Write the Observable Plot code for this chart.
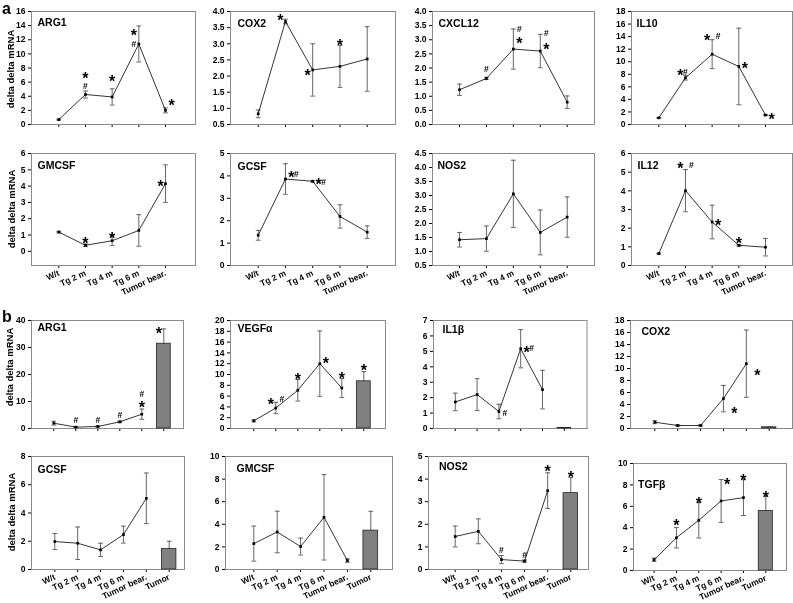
<!DOCTYPE html>
<html><head><meta charset="utf-8">
<script src="https://cdn.jsdelivr.net/npm/d3@7"></script>
<script src="https://cdn.jsdelivr.net/npm/@observablehq/plot@0.6"></script>
<style>
body{margin:0;background:#fff;}
#fig{position:relative;width:793px;height:603px;overflow:hidden;font-family:"Liberation Sans",Arial,sans-serif;color:#000;}
.pan{position:absolute;will-change:transform;}
.ylab{position:absolute;transform:translate(-50%,-50%) rotate(-90deg);white-space:nowrap;font-weight:bold;font-size:9.5px;}
.letter{position:absolute;font-weight:bold;font-size:16px;line-height:1;}
svg text{-webkit-font-smoothing:antialiased;}
</style></head><body><div id="fig"></div>
<script>
// ---------- categories ----------
const catsA = ["W/t", "Tg 2 m", "Tg 4 m", "Tg 6 m", "Tumor bear."];
const catsB = ["W/t", "Tg 2 m", "Tg 4 m", "Tg 6 m", "Tumor bear.", "Tumor"];

// ---------- panel a: values / errors ----------
const aARG1 = [0.7, 4.25, 3.9, 11.4, 2.0];
const aARG1Err = [0.08, 0.5, 1.15, 2.55, 0.35];
const aCOX2 = [0.83, 3.69, 2.19, 2.30, 2.53];
const aCOX2Err = [0.12, 0.07, 0.81, 0.65, 1.0];
const aCXCL12 = [1.23, 1.63, 2.67, 2.60, 0.79];
const aCXCL12Err = [0.2, 0.04, 0.71, 0.59, 0.22];
const aIL10 = [1.06, 7.43, 11.2, 9.24, 1.5];
const aIL10Err = [0.05, 0.35, 2.3, 6.1, 0.08];
const aGMCSF = [1.18, 0.37, 0.65, 1.28, 4.15];
const aGMCSFErr = [0.05, 0.08, 0.3, 0.97, 1.15];
const aGCSF = [1.35, 3.86, 3.76, 2.19, 1.49];
const aGCSFErr = [0.22, 0.68, 0.04, 0.52, 0.28];
const aNOS2 = [1.42, 1.46, 3.06, 1.68, 2.23];
const aNOS2Err = [0.26, 0.45, 1.2, 0.8, 0.72];
const aIL12 = [0.64, 4.01, 2.33, 1.08, 0.98];
const aIL12Err = [0.03, 1.13, 0.9, 0.05, 0.47];

// ---------- panel b: values / errors (last = Tumor bar) ----------
const bARG1 = [1.97, 0.5, 0.74, 2.46, 5.3, 31.4];
const bARG1Err = [0.7, 0.2, 0.2, 0.3, 1.9, 5.5];
const bVEGF = [1.42, 3.8, 7.08, 12.0, 7.5, 8.74];
const bVEGFErr = [0.2, 1.05, 2.0, 6.05, 1.75, 1.8];
const bIL1b = [1.72, 2.2, 1.1, 5.17, 2.52, 0.03];
const bIL1bErr = [0.57, 1.03, 0.47, 1.24, 1.25, 0.0];
const bCOX2 = [1.05, 0.5, 0.5, 4.98, 10.8, 0.2];
const bCOX2Err = [0.25, 0.1, 0.1, 2.2, 5.6, 0.05];
const bGCSF = [1.98, 1.86, 1.39, 2.47, 5.04, 1.46];
const bGCSFErr = [0.57, 1.15, 0.47, 0.6, 1.79, 0.54];
const bGMCSF = [2.29, 3.32, 2.03, 4.62, 0.79, 3.44];
const bGMCSFErr = [1.55, 1.84, 0.75, 3.78, 0.15, 1.71];
const bNOS2 = [1.46, 1.69, 0.44, 0.37, 3.49, 3.38];
const bNOS2Err = [0.46, 0.55, 0.18, 0.05, 0.79, 0.68];
const bTGFb = [1.0, 3.06, 4.69, 6.5, 6.81, 5.56];
const bTGFbErr = [0.15, 0.95, 1.65, 2.0, 1.67, 1.38];

// ---------- significance marks: [category, value, symbol, side] ----------
const aARG1Notes = [["Tg 2 m", 7.0, "*", "c"], ["Tg 2 m", 5.4, "#", "c"], ["Tg 4 m", 6.6, "*", "c"], ["Tg 6 m", 13.1, "*", "l"], ["Tg 6 m", 11.4, "#", "l"], ["Tumor bear.", 3.2, "*", "r"]];
const aCOX2Notes = [["Tg 2 m", 3.82, "*", "l"], ["Tg 4 m", 2.12, "*", "l"], ["Tg 6 m", 3.05, "*", "c"]];
const aCXCL12Notes = [["Tg 2 m", 1.95, "#", "c"], ["Tg 4 m", 3.38, "#", "r"], ["Tg 4 m", 2.98, "*", "r"], ["Tg 6 m", 3.22, "#", "r"], ["Tg 6 m", 2.8, "*", "r"]];
const aIL10Notes = [["Tg 2 m", 8.4, "*", "l"], ["Tg 2 m", 8.4, "#", "c"], ["Tg 4 m", 14.0, "*", "l"], ["Tg 4 m", 14.0, "#", "r"], ["Tg 6 m", 9.5, "*", "r"], ["Tumor bear.", 1.3, "*", "r"]];
const aGMCSFNotes = [["Tg 2 m", 0.71, "*", "c"], ["Tg 4 m", 0.98, "*", "c"], ["Tumor bear.", 4.17, "*", "l"]];
const aGCSFNotes = [["Tg 2 m", 4.07, "*", "r"], ["Tg 2 m", 4.07, "#", "r2"], ["Tg 4 m", 3.76, "*", "r"], ["Tg 4 m", 3.72, "#", "r2"]];
const aNOS2Notes = [];
const aIL12Notes = [["Tg 2 m", 5.38, "*", "l"], ["Tg 2 m", 5.38, "#", "r"], ["Tg 4 m", 2.35, "*", "r"], ["Tg 6 m", 1.35, "*", "c"]];
const bARG1Notes = [["Tg 2 m", 3.0, "#", "c"], ["Tg 4 m", 3.1, "#", "c"], ["Tg 6 m", 4.9, "#", "c"], ["Tumor bear.", 12.5, "#", "c"], ["Tumor bear.", 9.0, "*", "c"], ["Tumor", 36.6, "*", "l"]];
const bVEGFNotes = [["Tg 2 m", 5.1, "*", "l"], ["Tg 2 m", 5.4, "#", "r"], ["Tg 4 m", 9.8, "*", "c"], ["Tg 6 m", 12.7, "*", "r"], ["Tumor bear.", 10.0, "*", "c"], ["Tumor", 11.5, "*", "c"]];
const bIL1bNotes = [["Tg 4 m", 1.0, "#", "r"], ["Tg 6 m", 5.17, "*", "r"], ["Tg 6 m", 5.17, "#", "r2"]];
const bCOX2Notes = [["Tg 6 m", 3.1, "*", "r2"], ["Tumor bear.", 9.5, "*", "r2"]];
const bGCSFNotes = [];
const bGMCSFNotes = [];
const bNOS2Notes = [["Tg 4 m", 0.84, "#", "c"], ["Tg 6 m", 0.62, "#", "c"], ["Tumor bear.", 4.51, "*", "c"], ["Tumor", 4.22, "*", "c"]];
const bTGFbNotes = [["Tg 2 m", 4.5, "*", "c"], ["Tg 4 m", 6.6, "*", "c"], ["Tg 6 m", 8.4, "*", "r"], ["Tumor bear.", 8.75, "*", "c"], ["Tumor", 7.2, "*", "c"]];

// ---------- y tick labels ----------
const ticks0to16 = [0, 2, 4, 6, 8, 10, 12, 14, 16];
const ticks05to4 = [0.5, 1.0, 1.5, 2.0, 2.5, 3.0, 3.5, 4.0];
const ticks0to4 = [0.0, 0.5, 1.0, 1.5, 2.0, 2.5, 3.0, 3.5, 4.0];
const ticks0to18 = [0, 2, 4, 6, 8, 10, 12, 14, 16, 18];
const ticks0to6 = [0, 1, 2, 3, 4, 5, 6];
const ticks0to5 = [0, 1, 2, 3, 4, 5];
const ticks05to45 = [0.5, 1.0, 1.5, 2.0, 2.5, 3.0, 3.5, 4.0, 4.5];
const ticks0to40 = [0, 10, 20, 30, 40];
const ticks0to20 = [0, 2, 4, 6, 8, 10, 12, 14, 16, 18, 20];
const ticks0to7 = [0, 1, 2, 3, 4, 5, 6, 7];
const ticks0to8 = [0, 2, 4, 6, 8];
const ticks0to10 = [0, 2, 4, 6, 8, 10];

// ---------- drawing ----------
const FONT = '"Liberation Sans", Arial, Helvetica, sans-serif';
const capSymbol = {draw(ctx, size) { const r = Math.sqrt(size / Math.PI); ctx.moveTo(-r, 0); ctx.lineTo(r, 0); }};
const sideDx = {c: 0, l: -5, r: 6, r2: 11};
const fig = document.getElementById("fig");

function panel(cfg) {
  const {cats, vals, errs, notes, title, yDomain, yTicks, fmt, frame, gaps, tOff, labels, bar} = cfg;
  const [l, t, r, b] = frame;
  const mL = 32, mR = 8, mT = 8, mB = 44;
  const w = r - l + mL + mR, h = b - t + mT + mB;
  const n = cats.length;
  const [gL, gR] = gaps;
  const step = (r - l - gL - gR) / (n - 1);
  const pi = 0.37;
  const rows = cats.map((c, i) => ({cat: c, v: vals[i], e: errs[i]}));
  const linePts = bar ? rows.slice(0, n - 1) : rows;
  const barPts = bar ? rows.slice(n - 1) : [];
  const errStroke = "#555";
  const marks = [
    Plot.frame({stroke: "#8a8a8a", strokeWidth: 1}),
    Plot.ruleX(rows, {x: "cat", y1: d => d.v - d.e, y2: d => d.v + d.e, stroke: errStroke, strokeWidth: 0.9}),
    Plot.dot(rows, {x: "cat", y: d => d.v + d.e, symbol: capSymbol, r: 2.4, fill: "none", stroke: errStroke, strokeWidth: 0.9}),
    Plot.dot(rows, {x: "cat", y: d => d.v - d.e, symbol: capSymbol, r: 2.4, fill: "none", stroke: errStroke, strokeWidth: 0.9}),
    Plot.barY(barPts, {x: "cat", y: "v", fill: "#808080", stroke: "#222", strokeWidth: 0.8}),
    Plot.line(linePts, {x: "cat", y: "v", stroke: "#000", strokeWidth: 0.8}),
    Plot.dot(linePts, {x: "cat", y: "v", symbol: "square", r: 1.5, fill: "#000", stroke: "none"}),
    Plot.text([title], {frameAnchor: "top-left", dx: tOff[0], dy: tOff[1], lineAnchor: "top", text: d => d, fontSize: 10.5, fontWeight: "bold", textAnchor: "start", fill: "#000", fontFamily: FONT})
  ];
  for (const side of Object.keys(sideDx)) {
    const stars = notes.filter(d => d[3] === side && d[2] === "*");
    const hashes = notes.filter(d => d[3] === side && d[2] === "#");
    if (stars.length) marks.push(Plot.text(stars, {x: d => d[0], y: d => d[1], text: d => d[2], dx: sideDx[side], dy: 4, fontSize: 16, fontWeight: "bold", fill: "#000", fontFamily: FONT}));
    if (hashes.length) marks.push(Plot.text(hashes, {x: d => d[0], y: d => d[1], text: d => d[2], dx: sideDx[side], fontSize: 8.5, fontWeight: "bold", fill: "#000", fontFamily: FONT}));
  }
  const svg = Plot.plot({
    width: w, height: h,
    marginLeft: mL, marginRight: mR, marginTop: mT, marginBottom: mB,
    style: {background: "transparent", overflow: "visible", fontFamily: FONT, fontSize: "8.5px", fontWeight: "bold", color: "#000"},
    x: {type: "band", domain: cats, range: [mL + gL - step / 2, mL + (r - l) - gR + step / 2],
        paddingInner: pi, paddingOuter: pi / 2, align: 0.5, round: false,
        tickSize: 3, tickPadding: 4, tickRotate: -25, line: true, label: null,
        tickFormat: labels ? (d => d) : (() => "")},
    y: {domain: yDomain, ticks: yTicks, tickFormat: fmt, tickSize: 3, tickPadding: 3, line: true, label: null},
    marks
  });
  const div = document.createElement("div");
  div.className = "pan";
  div.style.left = (l - mL) + "px";
  div.style.top = (t - mT) + "px";
  div.style.width = w + "px";
  div.style.height = h + "px";
  div.appendChild(svg);
  fig.appendChild(div);
}

const panels = [
  {title: "ARG1", cats: catsA, vals: aARG1, errs: aARG1Err, notes: aARG1Notes, yDomain: [0, 16], yTicks: ticks0to16, fmt: "d", frame: [31, 11, 195, 124], gaps: [27.3, 30], tOff: [6, 7]},
  {title: "COX2", cats: catsA, vals: aCOX2, errs: aCOX2Err, notes: aCOX2Notes, yDomain: [0.5, 4], yTicks: ticks05to4, fmt: ".1f", frame: [230, 11, 395, 124], gaps: [27.7, 28.3], tOff: [7, 8]},
  {title: "CXCL12", cats: catsA, vals: aCXCL12, errs: aCXCL12Err, notes: aCXCL12Notes, yDomain: [0, 4], yTicks: ticks0to4, fmt: ".1f", frame: [432, 11, 594, 124], gaps: [27, 27.3], tOff: [6, 8]},
  {title: "IL10", cats: catsA, vals: aIL10, errs: aIL10Err, notes: aIL10Notes, yDomain: [0, 18], yTicks: ticks0to18, fmt: "d", frame: [631, 11, 792, 124], gaps: [27.3, 27], tOff: [5, 8]},
  {title: "GMCSF", cats: catsA, vals: aGMCSF, errs: aGMCSFErr, notes: aGMCSFNotes, yDomain: [-0.87, 6], yTicks: ticks0to6, fmt: "d", frame: [31, 153, 195, 265], gaps: [27.3, 30], tOff: [6, 8], labels: true},
  {title: "GCSF", cats: catsA, vals: aGCSF, errs: aGCSFErr, notes: aGCSFNotes, yDomain: [0, 5], yTicks: ticks0to5, fmt: "d", frame: [230, 153, 395, 265], gaps: [27.7, 28.3], tOff: [7, 9], labels: true},
  {title: "NOS2", cats: catsA, vals: aNOS2, errs: aNOS2Err, notes: aNOS2Notes, yDomain: [0.5, 4.5], yTicks: ticks05to45, fmt: ".1f", frame: [432, 153, 594, 265], gaps: [27, 27.3], tOff: [5, 8], labels: true},
  {title: "IL12", cats: catsA, vals: aIL12, errs: aIL12Err, notes: aIL12Notes, yDomain: [0, 6], yTicks: ticks0to6, fmt: "d", frame: [631, 153, 792, 265], gaps: [27.3, 27], tOff: [6, 8], labels: true},
  {title: "ARG1", cats: catsB, vals: bARG1, errs: bARG1Err, notes: bARG1Notes, yDomain: [0, 40], yTicks: ticks0to40, fmt: "d", frame: [31, 320, 183, 428], gaps: [22.3, 19.7], tOff: [6, 3.5], bar: true},
  {title: "VEGFα", cats: catsB, vals: bVEGF, errs: bVEGFErr, notes: bVEGFNotes, yDomain: [0, 20], yTicks: ticks0to20, fmt: "d", frame: [230, 320, 385, 428], gaps: [23.3, 21.7], tOff: [7, 4.5], bar: true},
  {title: "IL1β", cats: catsB, vals: bIL1b, errs: bIL1bErr, notes: bIL1bNotes, yDomain: [0, 7], yTicks: ticks0to7, fmt: "d", frame: [432.5, 320, 586, 428], gaps: [21.8, 22.7], tOff: [9, 5.5], bar: true},
  {title: "COX2", cats: catsB, vals: bCOX2, errs: bCOX2Err, notes: bCOX2Notes, yDomain: [0, 18], yTicks: ticks0to18, fmt: "d", frame: [630, 320, 792, 428], gaps: [24.3, 23.3], tOff: [11, 7], bar: true},
  {title: "GCSF", cats: catsB, vals: bGCSF, errs: bGCSFErr, notes: bGCSFNotes, yDomain: [0, 8], yTicks: ticks0to8, fmt: "d", frame: [31, 456, 184, 569], gaps: [23.3, 15.3], tOff: [6, 9], bar: true, labels: true},
  {title: "GMCSF", cats: catsB, vals: bGMCSF, errs: bGMCSFErr, notes: bGMCSFNotes, yDomain: [0, 10], yTicks: ticks0to10, fmt: "d", frame: [225, 456, 392, 569], gaps: [28.3, 21.7], tOff: [11, 8], bar: true, labels: true},
  {title: "NOS2", cats: catsB, vals: bNOS2, errs: bNOS2Err, notes: bNOS2Notes, yDomain: [0, 5], yTicks: ticks0to5, fmt: "d", frame: [428, 456, 588, 569], gaps: [26.7, 17.7], tOff: [10.5, 6], bar: true, labels: true},
  {title: "TGFβ", cats: catsB, vals: bTGFb, errs: bTGFbErr, notes: bTGFbNotes, yDomain: [0, 10], yTicks: ticks0to10, fmt: "d", frame: [633, 463, 786, 570], gaps: [20.6, 20.7], tOff: [4.6, 17], bar: true, labels: true}
];
panels.forEach(panel);

// y-axis titles and panel letters
const yTitle = "delta delta mRNA";
[[10, 69], [11, 209], [8.5, 367], [10.5, 512]].forEach(([cx, cy]) => {
  const d = document.createElement("div");
  d.className = "ylab"; d.textContent = yTitle;
  d.style.left = cx + "px"; d.style.top = cy + "px";
  fig.appendChild(d);
});
[["a", 2, 1], ["b", 2, 309]].forEach(([s, x, y]) => {
  const d = document.createElement("div");
  d.className = "letter"; d.textContent = s;
  d.style.left = x + "px"; d.style.top = y + "px";
  fig.appendChild(d);
});
</script></body></html>
